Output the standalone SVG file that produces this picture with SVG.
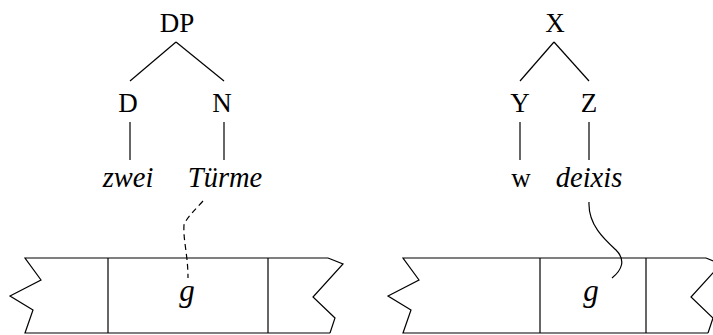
<svg xmlns="http://www.w3.org/2000/svg" width="713" height="335" viewBox="0 0 713 335">
<style>
.t{font-family:"Liberation Serif","Times New Roman",serif;font-size:27px;fill:#000;text-anchor:middle}
.i{font-style:italic;font-size:28.5px}
.g{font-size:31px}
.l{stroke:#000;stroke-width:1.2;fill:none}
.d{stroke-dasharray:6 4}
</style>
<rect width="713" height="335" fill="#fff"/>
<g id="tree1">
<g id="DP"><text class="t" x="177" y="32">DP</text></g>
<g id="D"><text class="t" x="128" y="112">D</text></g>
<g id="N"><text class="t" x="222" y="112">N</text></g>
<g id="zwei"><text class="t i" x="128" y="187">zwei</text></g>
<g id="Turme"><text class="t i" x="225" y="187">Türme</text></g>
</g>
<g id="tree2">
<g id="X"><text class="t" x="555" y="32">X</text></g>
<g id="Y"><text class="t" x="520" y="112">Y</text></g>
<g id="Z"><text class="t" x="589" y="112">Z</text></g>
<g id="w"><text class="t" x="521" y="187">w</text></g>
<g id="deixis"><text class="t i" x="589" y="187">deixis</text></g>
</g>
<g id="tape1">
<path class="l" d="M328,258 H25 L41,280 L10,296 L33,310 L25,333 H330"/>
<path class="l" d="M328,258 L343,264 L313,297 L335,318 L330,333"/>
<line class="l" x1="108" y1="258" x2="108" y2="333"/>
<line class="l" x1="268" y1="258" x2="268" y2="333"/>
<text class="t i g" x="187" y="301">g</text>
</g>
<g id="tape2">
<path class="l" d="M706,258 H403 L419,280 L388,296 L411,310 L403,333 H708"/>
<path class="l" d="M706,258 L721,264 L691,297 L713,318 L708,333"/>
<line class="l" x1="540" y1="258" x2="540" y2="333"/>
<line class="l" x1="646" y1="258" x2="646" y2="333"/>
<text class="t i g" x="591" y="301">g</text>
</g>
<g id="connectors">
<line class="l" x1="176" y1="42" x2="130" y2="81"/>
<line class="l" x1="176" y1="42" x2="224" y2="81"/>
<line class="l" x1="130" y1="122" x2="130" y2="160"/>
<line class="l" x1="224" y1="122" x2="224" y2="160"/>
<line class="l" x1="554" y1="42" x2="520" y2="81"/>
<line class="l" x1="554" y1="42" x2="589" y2="81"/>
<line class="l" x1="520" y1="122" x2="520" y2="160"/>
<line class="l" x1="589" y1="122" x2="589" y2="160"/>
<path class="l d" d="M203,201 C195,210 187,217 184,225 C183,240 188,255 188,278"/>
<path class="l" d="M589,202 C588,225 605,240 616,250 C626,260 622,270 612,278"/>
</g>
</svg>
